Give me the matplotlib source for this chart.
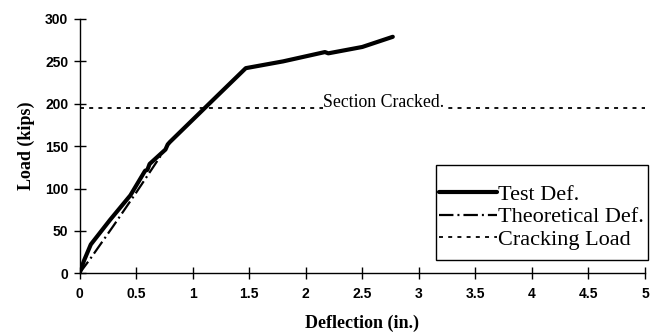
import matplotlib
matplotlib.use("Agg")
import matplotlib.pyplot as plt
from matplotlib.patches import Rectangle

# Measured load-deflection response
test_defl = [0, 0.04, 0.1, 0.27, 0.45, 0.58, 0.6, 0.62, 0.76, 0.78, 0.8, 1.0, 1.2, 1.47, 1.8, 2.17, 2.2, 2.5, 2.77]
test_load = [0, 15, 34, 63, 92, 121, 122, 129, 146, 152, 155, 181, 207, 242, 250, 261, 259.5, 267, 279]

# Theoretical (uncracked) prediction
theo_defl = [0, 0.1, 0.3, 0.5, 0.7, 0.8]
theo_load = [0, 18, 56, 95, 135, 155]

# Cracking load level
crack_defl = [0, 5]
crack_load = [195, 195]

x_ticks = [0, 0.5, 1, 1.5, 2, 2.5, 3, 3.5, 4, 4.5, 5]
x_tick_labels = ["0", "0.5", "1", "1.5", "2", "2.5", "3", "3.5", "4", "4.5", "5"]
y_ticks = [0, 50, 100, 150, 200, 250, 300]

serif = ["Liberation Serif", "DejaVu Serif"]
sans = ["Liberation Sans", "DejaVu Sans"]

W, H = 662, 335
fig = plt.figure(figsize=(W / 100, H / 100), dpi=100)
ax = fig.add_axes([79.5 / W, 1 - 273.3 / H, (645 - 79.5) / W, (273.3 - 19) / H])

ax.plot(test_defl, test_load, color="black", lw=3.0, solid_capstyle="round",
        solid_joinstyle="round", label="Test Def.", zorder=4)
ax.plot(theo_defl, theo_load, color="black", lw=1.6, dashes=[6.5, 1.8, 0.9, 1.8],
        label="Theoretical Def.", zorder=3)
ax.plot(crack_defl, crack_load, color="black", lw=1.3, dashes=[2.2, 2.9],
        label="Cracking Load", zorder=2)

ax.text(2.69, 196.5, "Section Cracked.", family=serif, fontsize=12.8,
        ha="center", va="baseline", zorder=5,
        bbox=dict(facecolor="white", edgecolor="none", pad=0.3))

ax.set_xlim(0, 5)
ax.set_ylim(0, 300)
ax.set_xticks(x_ticks)
ax.set_xticklabels(x_tick_labels)
ax.set_yticks(y_ticks)

for side in ("top", "right"):
    ax.spines[side].set_visible(False)
for side in ("left", "bottom"):
    ax.spines[side].set_linewidth(1.0)

ax.tick_params(axis="x", direction="inout", length=8, width=1.0, pad=6)
ax.tick_params(axis="y", direction="inout", length=8, width=1.0, pad=4)
for lab in ax.get_xticklabels() + ax.get_yticklabels():
    lab.set_family(sans)
    lab.set_fontweight("bold")
    lab.set_fontsize(10)

ax.set_xlabel("Deflection (in.)", family=serif, fontweight="bold", fontsize=13, labelpad=10)
ax.set_ylabel("Load (kips)", family=serif, fontweight="bold", fontsize=13, labelpad=7)

# Legend box (drawn as its own rectangle so it can be taller than the entries)
frame = Rectangle((436 / W, 1 - 260 / H), (648 - 436) / W, (260 - 165) / H,
                  transform=fig.transFigure, facecolor="white",
                  edgecolor="black", lw=1.0, zorder=4)
fig.add_artist(frame)

handles, labels = ax.get_legend_handles_labels()
leg = fig.legend(handles, labels, loc="upper left",
                 bbox_to_anchor=(439 / W, 1 - 184 / H),
                 borderaxespad=0, borderpad=0,
                 prop={"family": serif, "size": 16}, frameon=False,
                 handlelength=2.6, handletextpad=0.05, labelspacing=0.1)
leg.set_zorder(5)

fig.savefig("out.png", dpi=100)
